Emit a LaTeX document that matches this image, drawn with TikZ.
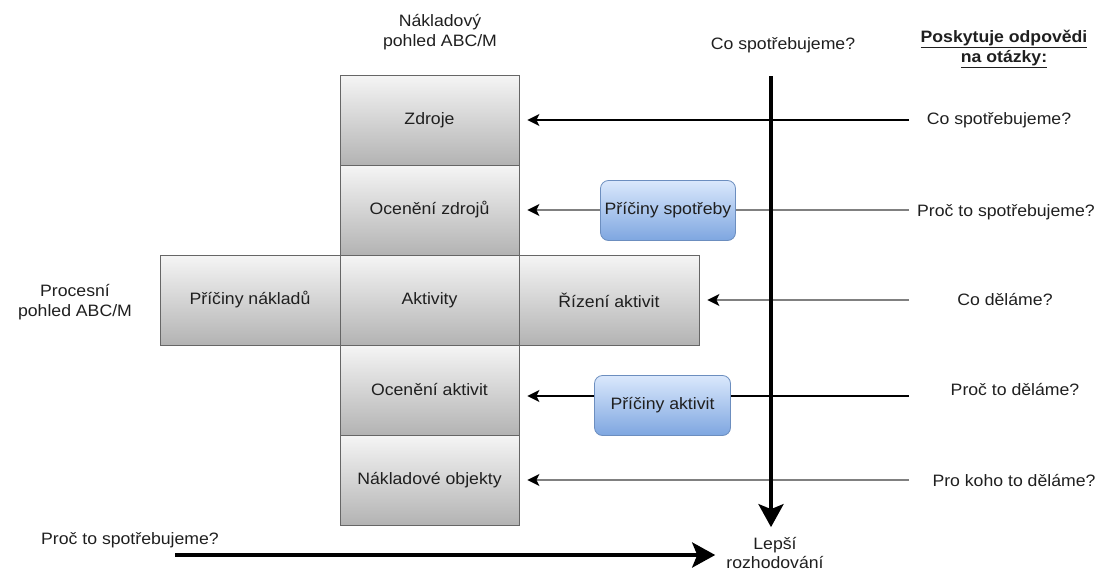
\documentclass[tikz,border=0pt]{standalone}
\usepackage{fontspec}
\setmainfont{Liberation Sans}[FakeStretch=1.07]
\usetikzlibrary{arrows.meta,backgrounds}
\definecolor{txtc}{HTML}{1F1F1F}
\definecolor{bluetop}{HTML}{DAE8FC}
\definecolor{bluebot}{HTML}{7EA6E0}
\definecolor{bluedraw}{HTML}{6C8EBF}
\definecolor{graytop}{HTML}{F5F5F5}
\definecolor{graybot}{HTML}{B3B3B3}
\definecolor{graydraw}{HTML}{666666}
\begin{document}
\begin{tikzpicture}[x=1pt,y=-1pt,
  txt/.style={text=txtc, font=\fontsize{16.5}{20}\selectfont, align=center, inner sep=0pt},
  graybox/.style={txt, draw=graydraw, line width=0.8pt, top color=graytop, bottom color=graybot, minimum width=179pt, minimum height=90pt},
  bluebox/.style={txt, draw=bluedraw, line width=0.8pt, rounded corners=8pt, top color=bluetop, bottom color=bluebot, minimum width=135pt, minimum height=60pt},
  thin/.style={line width=1.3pt, -{Stealth[length=12pt,width=12pt,inset=3pt,black]}, shorten >=8pt},
  thick/.style={line width=4pt, -{Stealth[length=23pt,width=25pt,inset=5pt]}}
]
\useasboundingbox (0,0) rectangle (1101,573);

% boxes
\node[graybox] (zdroje) at (429.5,120) {Zdroje};
\node[graybox] (ocz) at (429.5,210) {Ocenění zdrojů};
\node[graybox] (akt) at (429.5,300) {Aktivity};
\node[graybox] (oca) at (429.5,390) {Ocenění aktivit};
\node[graybox] (nob) at (429.5,480) {Nákladové objekty};
\node[graybox, minimum width=180pt] (pn) at (250,300) {Příčiny nákladů};
\node[graybox, minimum width=180pt] (ra) at (609,300) {Řízení aktivit};

\node[bluebox] (ps) at (668,210.5) {Příčiny spotřeby};
\node[bluebox, minimum width=136pt] (pa) at (662.5,405.5) {Příčiny aktivit};

% labels
\node[txt] (nak) at (440,32) {Nákladový\\pohled ABC/M};
\node[txt] (proc) at (75,302) {Procesní\\pohled ABC/M};
\node[txt] (cotop) at (783,45) {Co spotřebujeme?};
\node[txt, font=\fontsize{16.5}{20}\selectfont\bfseries] (title) at (1004,49) {\underline{Poskytuje odpovědi}\\\underline{na otázky:}};
\node[txt] (q1) at (999,120) {Co spotřebujeme?};
\node[txt] (q2) at (1006,212) {Proč to spotřebujeme?};
\node[txt] (q3) at (1005,300) {Co děláme?};
\node[txt] (q4) at (1015,390) {Proč to děláme?};
\node[txt] (q5) at (1014,480) {Pro koho to děláme?};
\node[txt] (qb) at (130,540) {Proč to spotřebujeme?};
\node[txt, font=\fontsize{16.5}{19}\selectfont] (lepsi) at (775,553) {Lepší\\rozhodování};

% connector start points
\coordinate (s1) at (909,120);
\coordinate (s2) at (909,210);
\coordinate (s3) at (909,300);
\coordinate (s4) at (909,396);
\coordinate (s5) at (909,480);
\coordinate (vtop) at (771,76);
\coordinate (hstart) at (175,555);

\begin{pgfonlayer}{background}
\draw[thin, black] (s1) -- (zdroje.east |- s1);
\draw[thin, black!50] (s2) -- (ocz.east |- s2);
\draw[thin, black!50] (s3) -- (ra.east |- s3);
\draw[thin, black] (s4) -- (oca.east |- s4);
\draw[thin, black!50] (s5) -- (nob.east |- s5);
\draw[thick, shorten >=10pt] (vtop) -- (vtop |- lepsi.north);
\draw[thick, shorten >=11pt] (hstart) -- (hstart -| lepsi.west);
\end{pgfonlayer}
\end{tikzpicture}
\end{document}
